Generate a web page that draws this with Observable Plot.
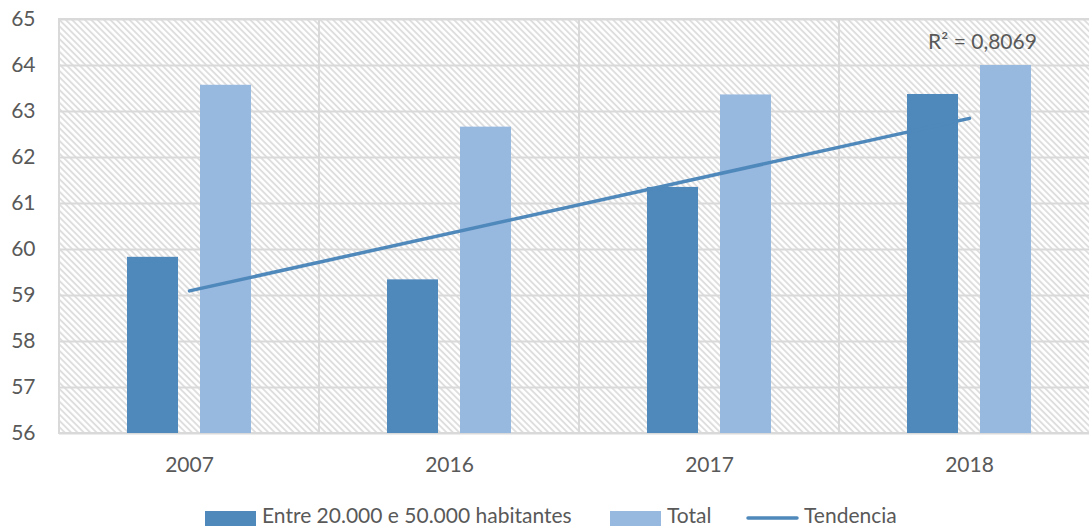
<!DOCTYPE html>
<html>
<head>
<meta charset="utf-8">
<script src="https://cdn.jsdelivr.net/npm/d3@7"></script>
<script src="https://cdn.jsdelivr.net/npm/@observablehq/plot@0.6"></script>
<style>
  html, body { margin: 0; padding: 0; background: #fff; overflow: hidden; }
  #chart { position: relative; width: 1089px; height: 528px; overflow: hidden; font-family: Lato, "Open Sans", sans-serif; }
  #chart svg { display: block; max-width: none !important; }
</style>
</head>
<body>
<div id="chart"></div>
<script>
// ---- data ----
const years = ["2007", "2016", "2017", "2018"];
const entreValues = [59.83, 59.34, 61.35, 63.37];
const totalValues = [63.57, 62.66, 63.36, 64.0];
const trendYears = ["2007", "2018"];
const trendValues = [59.1, 62.85];
const yTicks = [56, 57, 58, 59, 60, 61, 62, 63, 64, 65];
const r2Label = "R² = 0,8069";
const r2Year = "2018";
const r2Value = 64.5;
const seriesNames = ["Entre 20.000 e 50.000 habitantes", "Total", "Tendencia"];

// ---- styles ----
const darkBlue = "#4f88bb";
const lightBlue = "#97b8df";
const gridColor = "#d9d9d9";
const textColor = "#595959";

const entre = years.map((y, i) => ({year: y, value: entreValues[i]}));
const total = years.map((y, i) => ({year: y, value: totalValues[i]}));
const trend = trendYears.map((y, i) => ({year: y, value: trendValues[i]}));

const plot = Plot.plot({
  width: 1100,
  height: 480,
  marginTop: 19,
  marginBottom: 47,
  marginLeft: 59,
  marginRight: 1,
  style: {fontFamily: "Lato, 'Open Sans', sans-serif", fontSize: "21px", color: textColor, background: "#fff", maxWidth: "none"},
  x: {domain: years, padding: 0, label: null, tickSize: 0, tickPadding: 24},
  y: {domain: [56, 65], ticks: yTicks, label: null, tickSize: 0, tickPadding: 24, tickFormat: d => String(d)},
  marks: [
    Plot.cell(years, {x: d => d, fill: "url(#hatch)", stroke: gridColor, strokeWidth: 2}),
    Plot.ruleY(yTicks, {y: d => d, stroke: gridColor, strokeWidth: 2}),
    Plot.barY(entre, {x: "year", y1: 56, y2: "value", fill: darkBlue, insetLeft: 68, insetRight: 141}),
    Plot.barY(total, {x: "year", y1: 56, y2: "value", fill: lightBlue, insetLeft: 141, insetRight: 68}),
    Plot.line(trend, {x: "year", y: "value", stroke: darkBlue, strokeWidth: 3.5, strokeLinecap: "round"}),
    Plot.text([r2Label], {x: () => r2Year, y: () => r2Value, text: d => d, dx: 13, fill: textColor, fontSize: 21})
  ]
});

// hatch pattern definition
const svg = d3.select(plot);
const defs = svg.insert("defs", ":first-child");
const pat = defs.append("pattern")
  .attr("id", "hatch")
  .attr("patternUnits", "userSpaceOnUse")
  .attr("width", 4.5)
  .attr("height", 4.5)
  .attr("patternTransform", "rotate(-45)");
pat.append("rect").attr("width", 4.5).attr("height", 4.5).attr("fill", "#fff");
pat.append("line").attr("x1", 1).attr("y1", 0).attr("x2", 1).attr("y2", 4.5)
  .attr("stroke", "#dcdcdc").attr("stroke-width", 1.8);

document.getElementById("chart").appendChild(plot);

// ---- legend below the chart ----
const legend = d3.select("#chart").append("svg")
  .attr("width", 1089).attr("height", 48)
  .style("font-family", "Lato, 'Open Sans', sans-serif")
  .style("font-size", "21px");
const items = [
  {name: seriesNames[0], kind: "rect", color: darkBlue, x: 205},
  {name: seriesNames[1], kind: "rect", color: lightBlue, x: 610},
  {name: seriesNames[2], kind: "line", color: darkBlue, x: 747}
];
items.forEach(it => {
  if (it.kind === "rect") {
    legend.append("rect").attr("x", it.x).attr("y", 31).attr("width", 51).attr("height", 15).attr("fill", it.color);
  } else {
    legend.append("line").attr("x1", it.x + 1).attr("x2", it.x + 50).attr("y1", 38).attr("y2", 38)
      .attr("stroke", it.color).attr("stroke-width", 3.5).attr("stroke-linecap", "round");
  }
  legend.append("text").attr("x", it.x + 57).attr("y", 43).attr("fill", textColor).text(it.name);
});
</script>
</body>
</html>
